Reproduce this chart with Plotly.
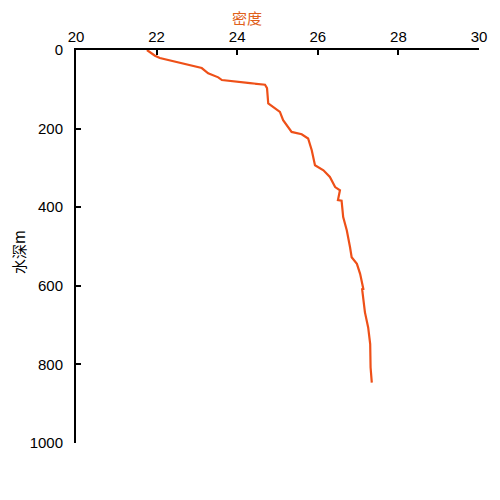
import plotly.graph_objects as go

density = [21.76, 21.96, 22.08, 22.41, 22.75, 23.12, 23.28, 23.53, 23.62, 23.99,
           24.32, 24.69, 24.74, 24.77, 24.94, 25.06, 25.14, 25.35, 25.60, 25.76,
           25.85, 25.93, 26.14, 26.30, 26.43, 26.55, 26.50, 26.59, 26.63, 26.72,
           26.80, 26.84, 26.97, 27.05, 27.13, 27.10, 27.17, 27.25, 27.30, 27.31,
           27.34]
depth = [0, 14.5, 20.4, 28.8, 37.5, 45.9, 59.4, 69.6, 76.5, 79.8,
         84.2, 88.5, 96.9, 136, 148.7, 157.4, 178.6, 208.4, 214.3, 225.3,
         255.1, 293.4, 306.1, 323.2, 348.7, 357.1, 382.0, 383.5, 425.3, 459.2,
         501.8, 527.3, 544.1, 569.6, 607.9, 608.5, 667.6, 705.9, 748.2, 807.9,
         846.2]

x_ticks = [20, 22, 24, 26, 28, 30]
y_ticks = [0, 200, 400, 600, 800, 1000]

fig = go.Figure()
fig.add_trace(go.Scatter(x=density, y=depth, mode="lines",
                         line=dict(color="#EE5018", width=2.2), showlegend=False))

font = "Liberation Sans, Arial, sans-serif"
fig.update_layout(
    width=500, height=500,
    margin=dict(l=68, r=29, t=42, b=65),
    paper_bgcolor="white", plot_bgcolor="white",
    font=dict(family=font, size=15, color="black"),
    title=dict(text="密度", xref="container", yref="container",
               x=0.478, y=0.978, xanchor="center", yanchor="middle",
               font=dict(family="Noto Sans CJK SC", size=15, color="#E0601A")),
    xaxis=dict(side="top", range=[20, 30], tickvals=x_ticks, ticks="inside",
               ticklen=5, tickwidth=2, tickcolor="black", showgrid=False,
               zeroline=False, showline=True, linecolor="black", linewidth=2),
    yaxis=dict(range=[1000, 0], tickvals=y_ticks, ticks="inside",
               ticklen=5, tickwidth=2, tickcolor="black", showgrid=False,
               zeroline=False, showline=True, linecolor="black", linewidth=2,
               ticklabelstandoff=8),
    annotations=[
        dict(text="水深m", xref="paper", yref="paper", x=-0.144, y=0.486,
             xanchor="center", yanchor="middle", showarrow=False, textangle=-90,
             font=dict(family="Noto Sans CJK SC", size=15, color="black")),
    ],
)
fig.write_html("out.html")
